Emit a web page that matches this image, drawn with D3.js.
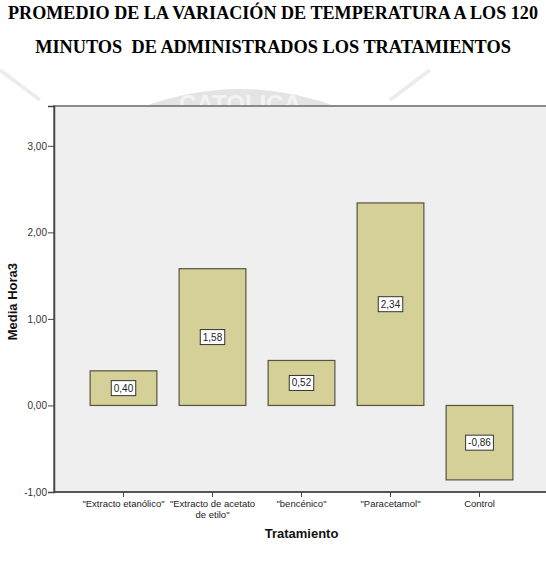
<!DOCTYPE html>
<html>
<head>
<meta charset="utf-8">
<script src="https://cdn.jsdelivr.net/npm/d3@7"></script>
<style>
  html, body { margin: 0; padding: 0; background: #fff; }
  svg { display: block; }
</style>
</head>
<body>
<svg id="chart" width="546" height="588"></svg>
<script>
const titleLines = [
  "PROMEDIO DE LA VARIACIÓN DE TEMPERATURA A LOS 120",
  "MINUTOS  DE ADMINISTRADOS LOS TRATAMIENTOS"
];
const categories = [
  ["\"Extracto etanólico\""],
  ["\"Extracto de acetato", "de etilo\""],
  ["\"bencénico\""],
  ["\"Paracetamol\""],
  ["Control"]
];
const values = [0.40, 1.58, 0.52, 2.34, -0.86];
const yTicks = [-1, 0, 1, 2, 3];
const yLabel = "Media Hora3";
const xLabel = "Tratamiento";

const svg = d3.select("#chart");
const fmt = v => d3.format(".2f")(v).replace(".", ",").replace("\u2212", "-");

// faint watermark behind everything
const wm = svg.append("g").attr("class", "watermark");
wm.append("path")
  .attr("d", "M140,108 Q240,70 340,108 Z")
  .attr("fill", "#e4e4e2");
wm.append("text")
  .attr("x", 240).attr("y", 112)
  .attr("text-anchor", "middle")
  .attr("font-family", "Liberation Sans, Arial, sans-serif")
  .attr("font-weight", "bold")
  .attr("font-size", 24)
  .attr("fill", "#f3f3f3")
  .text("CATOLICA");
wm.append("path").attr("d", "M0,70 L40,100").attr("stroke", "#ececec").attr("stroke-width", 4);
wm.append("path").attr("d", "M390,100 L430,70").attr("stroke", "#ececec").attr("stroke-width", 4);

// title
const titleTargets = [530, 476];
titleLines.forEach((t, i) => {
  const el = svg.append("text")
    .attr("x", 273).attr("y", 19 + i * 34)
    .attr("text-anchor", "middle")
    .attr("font-family", "Liberation Serif, 'Times New Roman', serif")
    .attr("font-weight", "bold")
    .attr("font-size", 16)
    .style("white-space", "pre")
    .attr("fill", "#000")
    .text(t);
  const w = el.node().getComputedTextLength();
  el.attr("font-size", 16 * titleTargets[i] / w);
});

// plot area
const plot = { left: 54, top: 106, right: 560, bottom: 492 };

const y = d3.scaleLinear().domain([-1, 3.46]).range([plot.bottom, plot.top]);
const x = d3.scaleBand().domain(d3.range(categories.length)).range([79, 524])
  .paddingInner(0.25).paddingOuter(0.125);

svg.append("rect")
  .attr("x", plot.left).attr("y", plot.top)
  .attr("width", plot.right - plot.left).attr("height", plot.bottom - plot.top)
  .attr("fill", "#efefef")
  .attr("stroke", "#8a8a8a").attr("stroke-width", 2);

// bars
const bars = svg.append("g").selectAll("g")
  .data(values)
  .join("g");

bars.append("rect")
  .attr("x", (d, i) => x(i))
  .attr("y", d => y(Math.max(0, d)))
  .attr("width", x.bandwidth())
  .attr("height", d => Math.abs(y(d) - y(0)))
  .attr("fill", "#d4d098")
  .attr("stroke", "#55553f")
  .attr("stroke-width", 1.2);

// value labels
bars.each(function (d, i) {
  const g = d3.select(this);
  const cx = x(i) + x.bandwidth() / 2;
  const cy = y(d / 2);
  const t = g.append("text")
    .attr("x", cx).attr("y", cy)
    .attr("dy", "0.35em")
    .attr("text-anchor", "middle")
    .attr("font-family", "Liberation Sans, Arial, sans-serif")
    .attr("font-size", 10)
    .attr("fill", "#222")
    .text(fmt(d));
  const w = t.node().getComputedTextLength();
  g.insert("rect", "text")
    .attr("x", cx - w / 2 - 2.5).attr("y", cy - 7.5)
    .attr("width", w + 5).attr("height", 15)
    .attr("fill", "#fff")
    .attr("stroke", "#333").attr("stroke-width", 1);
});

// y axis
const yAxis = svg.append("g")
  .attr("transform", `translate(${plot.left},0)`)
  .call(d3.axisLeft(y).tickValues(yTicks).tickSize(6).tickFormat(fmt));
yAxis.select(".domain").attr("stroke", "#444").attr("stroke-width", 1.5);
yAxis.selectAll(".tick line").attr("stroke", "#444");
yAxis.selectAll(".tick text")
  .attr("x", -7)
  .attr("font-family", "Liberation Sans, Arial, sans-serif")
  .attr("font-size", 10)
  .attr("fill", "#333");

// x axis
const xAxis = svg.append("g")
  .attr("transform", `translate(0,${plot.bottom})`)
  .call(d3.axisBottom(x).tickSize(5).tickFormat(""));
xAxis.select(".domain").attr("d", `M${plot.left},0H${plot.right}`).attr("stroke", "#444").attr("stroke-width", 1.5);
xAxis.selectAll(".tick line").attr("stroke", "#444");
xAxis.selectAll(".tick").each(function (d) {
  const t = d3.select(this).append("text")
    .attr("y", 15)
    .attr("text-anchor", "middle")
    .attr("font-family", "Liberation Sans, Arial, sans-serif")
    .attr("font-size", 9.5)
    .attr("fill", "#222");
  categories[d].forEach((line, k) => {
    t.append("tspan").attr("x", 0).attr("dy", k === 0 ? 0 : 10.5).text(line);
  });
});

// axis titles
svg.append("text")
  .attr("transform", `translate(17,${y(1.2)}) rotate(-90)`)
  .attr("text-anchor", "middle")
  .attr("font-family", "Liberation Sans, Arial, sans-serif")
  .attr("font-weight", "bold")
  .attr("font-size", 13)
  .attr("fill", "#111")
  .text(yLabel);

svg.append("text")
  .attr("x", x(2) + x.bandwidth() / 2).attr("y", 538)
  .attr("text-anchor", "middle")
  .attr("font-family", "Liberation Sans, Arial, sans-serif")
  .attr("font-weight", "bold")
  .attr("font-size", 13)
  .attr("fill", "#111")
  .text(xLabel);
</script>
</body>
</html>
